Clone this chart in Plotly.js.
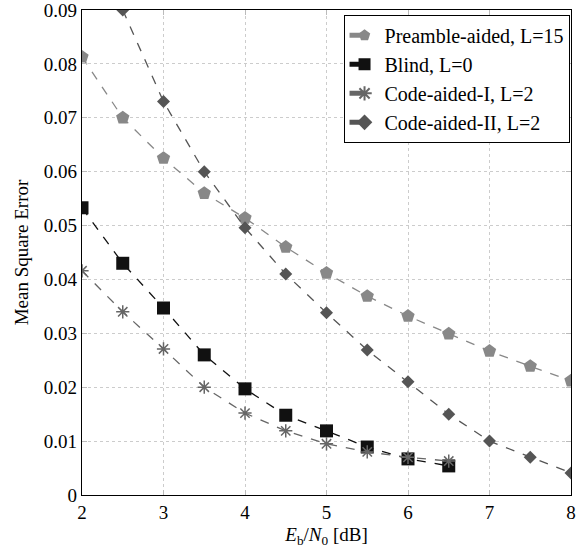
<!DOCTYPE html>
<html><head><meta charset="utf-8">
<script src="https://cdn.plot.ly/plotly-3.0.1.min.js"></script>
<style>body{margin:0;background:#fff}#chart{width:576px;height:550px}</style>
</head><body><div id="chart"></div>
<script>
const xFull = [2,2.5,3,3.5,4,4.5,5,5.5,6,6.5,7,7.5,8];
const xBlind = [2,2.5,3,3.5,4,4.5,5,5.5,6,6.5];
const xCode2 = [2.5,3,3.5,4,4.5,5,5.5,6,6.5,7,7.5,8];
const preamble = [0.0813,0.0700,0.0625,0.0560,0.0514,0.0460,0.0412,0.0369,0.0332,0.0299,0.0267,0.0239,0.0212];
const blind = [0.0533,0.0430,0.0347,0.0260,0.0197,0.0148,0.0119,0.0089,0.0067,0.0054];
const codeI = [0.0416,0.0340,0.0271,0.0200,0.0152,0.0119,0.0095,0.0080,0.0070,0.0063];
const codeII = [0.0900,0.0730,0.0600,0.0496,0.0410,0.0338,0.0269,0.0210,0.0150,0.0100,0.0070,0.0041];
const names = ["Preamble-aided, L=15","Blind, L=0","Code-aided-I, L=2","Code-aided-II, L=2"];
const yTicks = [0,0.01,0.02,0.03,0.04,0.05,0.06,0.07,0.08,0.09];
const yTickText = ['0','0.01','0.02','0.03','0.04','0.05','0.06','0.07','0.08','0.09'];
const xTicks = [2,3,4,5,6,7,8];

const FONT = 'Liberation Serif';

const traces = [
  {x:xFull, y:preamble, name:names[0], mode:'lines+markers',
   line:{color:'#888888', dash:'dash', width:1.3},
   marker:{symbol:'pentagon', size:14, color:'#888888'}},
  {x:xBlind, y:blind, name:names[1], mode:'lines+markers',
   line:{color:'#111111', dash:'dash', width:1.3},
   marker:{symbol:'square', size:13, color:'#111111'}},
  {x:xBlind, y:codeI, name:names[2], mode:'lines+markers',
   line:{color:'#666666', dash:'dash', width:1.3},
   marker:{symbol:'asterisk-open', size:11, color:'#666666', line:{color:'#666666', width:1.5}}},
  {x:xCode2, y:codeII, name:names[3], mode:'lines+markers',
   line:{color:'#555555', dash:'dash', width:1.3},
   marker:{symbol:'diamond', size:10, color:'#555555'}}
];

const axisCommon = {
  showline:true, linecolor:'#000', linewidth:1.3, mirror:'ticks',
  ticks:'inside', ticklen:5, tickcolor:'#bbb',
  showgrid:true, gridcolor:'#cccccc', griddash:'dot', gridwidth:1,
  zeroline:false, ticklabeloverflow:'allow',
  tickfont:{family:FONT, size:19, color:'#000'}
};

const layout = {
  width:576, height:550,
  margin:{l:82, r:5, t:10, b:55},
  paper_bgcolor:'#fff', plot_bgcolor:'#fff',
  font:{family:FONT, color:'#000'},
  xaxis: Object.assign({}, axisCommon, {
    range:[2,8], tickvals:xTicks,
    title:{text:'<i>E</i><sub>b</sub>/<i>N</i><sub>0</sub> [dB]', font:{family:FONT, size:19}, standoff:5}
  }),
  yaxis: Object.assign({}, axisCommon, {
    range:[0,0.09], tickvals:yTicks, ticktext:yTickText,
    title:{text:'Mean Square Error', font:{family:FONT, size:19}, standoff:10}
  }),
  legend:{x:0.997, xanchor:'right', y:0.99, yanchor:'top',
    bgcolor:'#fff', bordercolor:'#000', borderwidth:1,
    font:{family:FONT, size:20, color:'#000'},
    tracegroupgap:0, itemwidth:30, itemsizing:'constant'},
  showlegend:true
};

Plotly.newPlot('chart', traces, layout, {displayModeBar:false, staticPlot:true});
</script>
</body></html>
